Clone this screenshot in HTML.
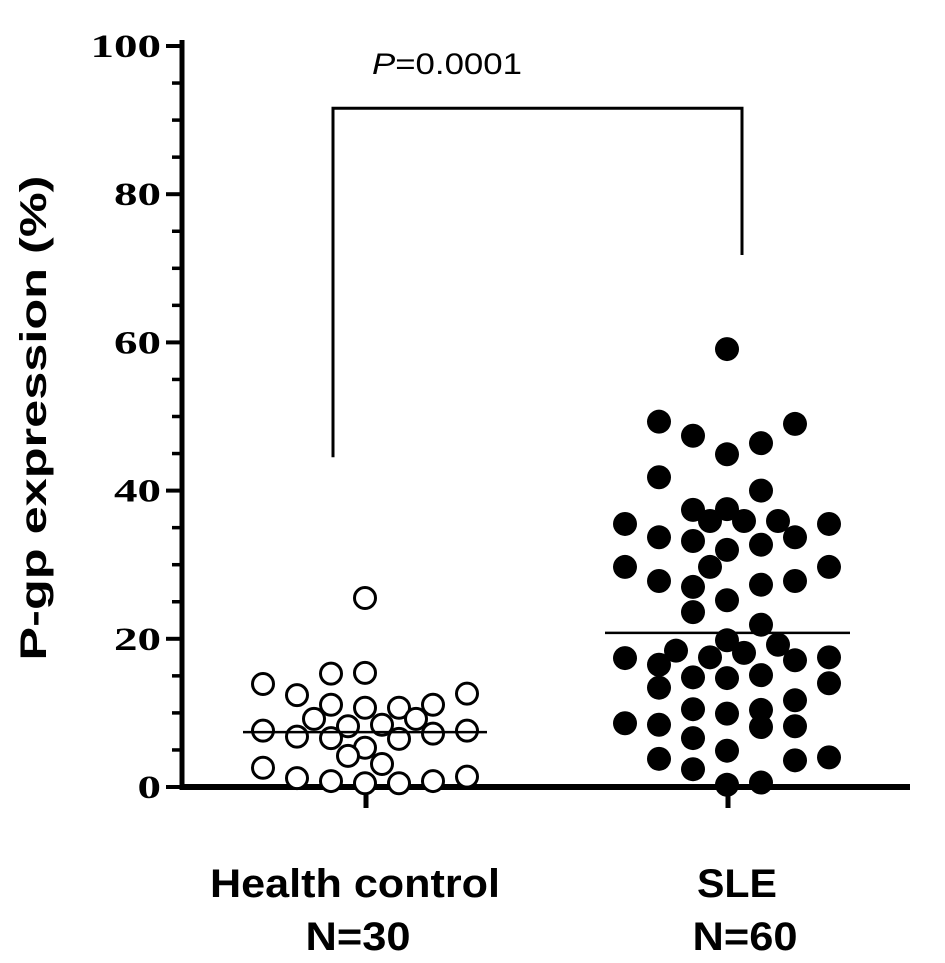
<!DOCTYPE html>
<html><head><meta charset="utf-8"><style>
html,body{margin:0;padding:0;background:#fff;}
svg{display:block;}
</style></head><body>
<svg id="chart" width="945" height="963" viewBox="0 0 945 963" xmlns="http://www.w3.org/2000/svg"></svg>
<script>
const categories = ["Health control", "SLE"];
const groupN = ["N=30", "N=60"];
const yTicks = [0, 20, 40, 60, 80, 100];
const controlValues = [25.5,15.3,15.4,13.9,12.4,12.6,11.1,10.7,10.7,11.1,9.2,9.2,8.2,8.4,7.6,6.8,6.6,6.5,7.2,7.6,5.3,4.2,3.1,2.6,1.2,0.8,0.5,0.5,0.8,1.4];
const controlJitter = [0,-1,0,-3,-2,3,-1,0,1,2,-1.5,1.5,-0.5,0.5,-3,-2,-1,1,2,3,0,-0.5,0.5,-3,-2,-1,0,1,2,3];
const sleValues = [59.1,49.3,49.0,47.4,46.4,44.9,41.8,40.0,37.4,37.5,35.9,35.9,35.9,35.5,35.5,33.7,33.2,33.7,32.7,32.0,
 29.7,29.7,29.7,27.8,27.0,27.3,27.8,25.2,23.6,21.9,19.8,19.2,18.4,17.5,18.1,17.4,16.5,17.1,17.5,14.8,14.7,15.1,13.4,14.0,11.7,10.5,9.9,10.4,8.1,8.6,8.4,8.2,6.6,4.9,3.8,3.6,4.0,2.4,0.3,0.6];
const sleJitter = [0,-2,2,-1,1,0,-2,1,-1,0,-0.5,0.5,1.5,-3,3,-2,-1,2,1,0,
 -3,-0.5,3,-2,-1,1,2,0,-1,1,0,1.5,-1.5,-0.5,0.5,-3,-2,2,3,-1,0,1,-2,3,2,-1,0,1,1,-3,-2,2,-1,0,-2,2,3,-1,0,1];
const means = [7.4, 20.8];
const pBracket = {left: 44.5, top: 91.6, right: 71.8};

const NS = "http://www.w3.org/2000/svg";
const svg = document.getElementById("chart");
const y = v => 787 - v * 7.41;
const catX = [365, 727];
const step = 34;
function mk(tag, attrs, parent) {
  const e = document.createElementNS(NS, tag);
  for (const k in attrs) e.setAttribute(k, attrs[k]);
  (parent || svg).appendChild(e);
  return e;
}
let e = mk("line", {x1:182, y1:40, x2:182, y2:790, stroke:"#000", "stroke-width":5});


for (let v = 0; v <= 100; v += 5) {
  const major = v % 20 === 0;
  e = mk("line", {x1: major ? 166 : 172, y1: y(v), x2: 182, y2: y(v), stroke:"#000", "stroke-width": major ? 4 : 3.5});
  
  
}
yTicks.forEach(v => {
  const s = String(v);
  e = mk("text", {x:161, y:y(v)+11, "text-anchor":"end", "font-family":"Liberation Serif, serif", "font-weight":"bold", "font-size":33, textLength: s.length*23.5, lengthAdjust:"spacingAndGlyphs"});
  e.textContent = s;
  
  
});
e = mk("text", {x:0, y:0, transform:"translate(46,418) rotate(-90)", "text-anchor":"middle", "font-family":"Liberation Sans, sans-serif", "font-weight":"bold", "font-size":37, textLength:485, lengthAdjust:"spacingAndGlyphs"});
e.textContent = "P-gp  expression (%)";


e = mk("line", {x1:180, y1:787, x2:910, y2:787, stroke:"#000", "stroke-width":6});


const labW = [290, 80];
const nW = [105, 105];
catX.forEach((cx, i) => {
  e = mk("line", {x1:cx+1, y1:787, x2:cx+1, y2:808, stroke:"#000", "stroke-width":5});
  
  
  e = mk("text", {x: i ? cx+10 : cx-10, y:897, "text-anchor":"middle", "font-family":"Liberation Sans, sans-serif", "font-weight":"bold", "font-size":40, textLength: labW[i], lengthAdjust:"spacingAndGlyphs"});
  e.textContent = categories[i];
  
  
  e = mk("text", {x: i ? cx+18 : cx-7, y:950, "text-anchor":"middle", "font-family":"Liberation Sans, sans-serif", "font-weight":"bold", "font-size":40, textLength: nW[i], lengthAdjust:"spacingAndGlyphs"});
  e.textContent = groupN[i];
  
  
});
controlValues.forEach((v, i) => {
  e = mk("circle", {cx: catX[0] + controlJitter[i]*step, cy: y(v), r:10.5, fill:"#fff", stroke:"#000", "stroke-width":3});
  
  
});
sleValues.forEach((v, i) => {
  e = mk("circle", {cx: catX[1] + sleJitter[i]*step, cy: y(v), r:12, fill:"#000"});
  
  
});
e = mk("line", {x1:243, y1:y(means[0]), x2:487, y2:y(means[0]), stroke:"#000", "stroke-width":2.5});


e = mk("line", {x1:605, y1:y(means[1]), x2:850, y2:y(means[1]), stroke:"#000", "stroke-width":2.5});


e = mk("polyline", {points:`333,${y(pBracket.left)} 333,${y(pBracket.top)} 742,${y(pBracket.top)} 742,${y(pBracket.right)}`, fill:"none", stroke:"#000", "stroke-width":3});


e = mk("text", {x:447, y:74, "text-anchor":"middle", "font-family":"Liberation Sans, sans-serif", "font-size":30, textLength:150, lengthAdjust:"spacingAndGlyphs"});
e.innerHTML = '<tspan font-style="italic">P</tspan>=0.0001';


</script>
</body></html>
